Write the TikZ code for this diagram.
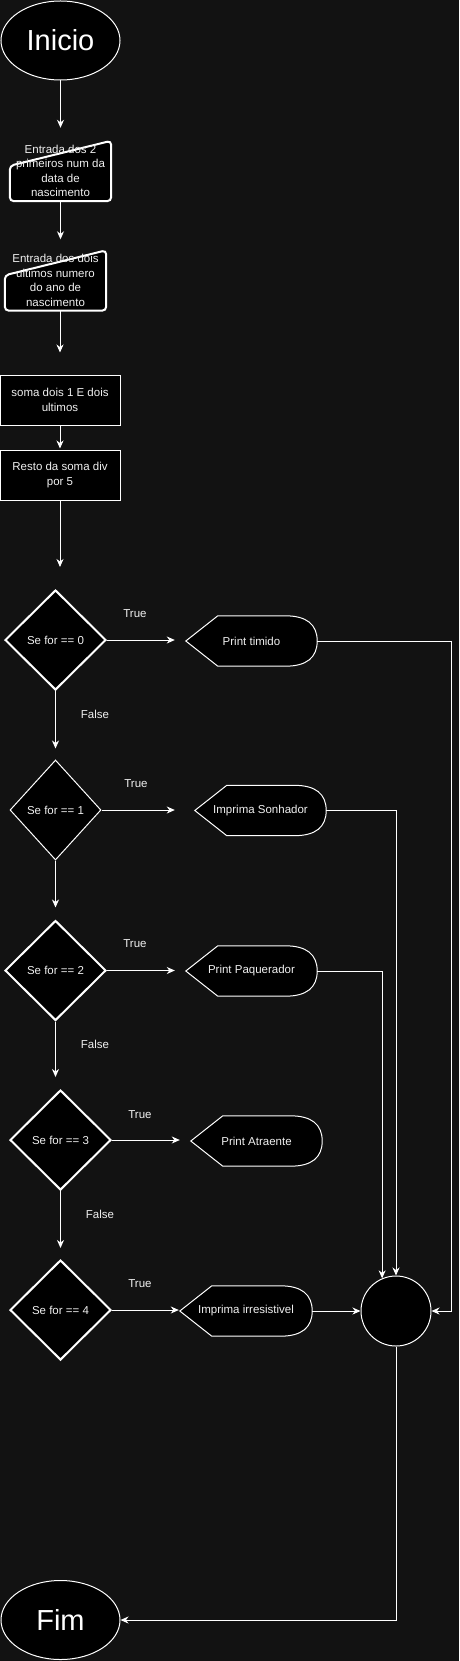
\documentclass[tikz,border=0pt]{standalone}
\usepackage{fontspec}
\setmainfont{Liberation Sans}
\usetikzlibrary{shapes.geometric,arrows.meta}

\pgfdeclarelayer{back}
\pgfdeclarelayer{shapes}
\pgfsetlayers{back,shapes,main}

\definecolor{bgc}{RGB}{18,18,18}
\definecolor{txt}{RGB}{240,240,240}

\tikzset{
  base/.style={text=txt, font=\fontsize{11.5}{14.5}\selectfont, align=center, inner sep=0pt},
  term/.style={base, ellipse, draw=white, fill=black, line width=1pt, minimum width=119pt, minimum height=79pt, font=\fontsize{29}{32}\selectfont, text=white},
  inbox/.style={base, minimum width=101pt, minimum height=60pt},
  procbox/.style={base, rectangle, draw=white, fill=black, line width=1pt, minimum width=120pt, minimum height=50pt},
  decide/.style={base, diamond, draw=white, fill=black, line width=2pt, minimum width=101pt, minimum height=100pt},
  showbox/.style={base, minimum width=131pt, minimum height=50pt},
  arr/.style={draw=white, line width=1pt, -{Stealth[length=8pt,width=7pt,inset=2.5pt]}},
  lbl/.style={base}
}

\begin{document}
\begin{tikzpicture}[x=1pt,y=-1pt]
\begin{pgfonlayer}{back}
  \fill[bgc] (0,0) rectangle (459,1661);
\end{pgfonlayer}
\useasboundingbox (0,0) rectangle (459,1661);

\node[term] (inicio) at (60.5,40.5) {Inicio};
\node[inbox] (in1) at (60.5,171) {Entrada dos 2\\primeiros num da\\data de\\nascimento};
\node[inbox] (in2) at (55.5,280.5) {Entrada dos dois\\ultimos numero\\do ano de\\nascimento};
\node[procbox] (soma) at (60,400) {soma dois 1 E dois\\ultimos};
\node[procbox] (resto) at (60,475) {Resto da soma div\\por 5};

\node[decide] (d0) at (55.5,640) {Se for == 0};
\node[decide, line width=1pt, minimum width=91pt] (d1) at (55.5,810) {Se for == 1};
\node[decide] (d2) at (55.5,970.5) {Se for == 2};
\node[decide] (d3) at (60.5,1140) {Se for == 3};
\node[decide] (d4) at (60.5,1310) {Se for == 4};

\node[showbox] (p0) at (251.5,641) {Print timido};
\node[showbox] (p1) at (260.5,810.5) {Imprima Sonhador};
\node[showbox] (p2) at (251.5,971) {Print Paquerador};
\node[showbox] (p3) at (256.5,1141) {Print Atraente};
\node[showbox, minimum width=132pt] (p4) at (246,1311) {Imprima irresistivel};

\node[circle, draw=white, fill=black, line width=1pt, minimum size=70pt, inner sep=0pt] (junc) at (396,1311) {};
\node[term] (fim) at (60.5,1620) {Fim};

\begin{pgfonlayer}{shapes}
  \foreach \n in {in1,in2}
    \draw[white, fill=black, line width=2pt, rounded corners=4pt] ([yshift=-25pt]\n.north west) -- (\n.north east) -- (\n.south east) -- (\n.south west) -- cycle;
  \foreach \i in {0,...,4}
    \draw[white, fill=black, line width=1pt] (p\i.west) -- ([xshift=32pt]p\i.north west) -- ([xshift=-32pt]p\i.north east)
      .. controls ([xshift=-10.7pt]p\i.north east) and ([yshift=16.7pt]p\i.east) .. (p\i.east)
      .. controls ([yshift=-16.7pt]p\i.east) and ([xshift=-10.7pt]p\i.south east) .. ([xshift=-32pt]p\i.south east)
      -- ([xshift=32pt]p\i.south west) -- cycle;
\end{pgfonlayer}

\draw[arr, shorten >=13pt] (inicio.south) -- (inicio.south |- in1.north);
\draw[arr, shorten >=11pt] (in1.south) -- (in1.south |- in2.north);
\draw[arr, shorten >=22pt] (in2.south -| soma.north) -- (soma.north);
\draw[arr, shorten >=1pt] (soma) -- (resto);
\draw[arr, shorten >=22pt] (resto.south) -- (resto.south |- d0.north);
\draw[arr, shorten >=11pt] (d0) -- (d1);
\draw[arr, shorten >=12pt] (d1) -- (d2);
\draw[arr, shorten >=12pt] (d2.south) -- (d2.south |- d3.north);
\draw[arr, shorten >=11pt] (d3) -- (d4);

\draw[arr, shorten >=11pt] (d0.east) -- (d0.east -| p0.west);
\draw[arr, shorten >=20pt] (d1.east) -- (d1.east -| p1.west);
\draw[arr, shorten >=11pt] (d2.east) -- (d2.east -| p2.west);
\draw[arr, shorten >=11pt] (d3.east) -- (d3.east -| p3.west);
\draw[arr, shorten >=1pt] (d4.east) -- (d4.east -| p4.west);

\draw[arr] (p0.east) -- ++(134,0) |- (junc.east);
\draw[arr] (p1.east) -| (junc.north);
\draw[arr] (p2.east) -| (junc.113.6);
\draw[arr] (p4.east) -- (junc.west);
\draw[arr] (junc.south) |- (fim.east);

\node[lbl] (t0) at (135,614) {True};
\node[lbl] (t1) at (136,784) {True};
\node[lbl] (t2) at (135,944) {True};
\node[lbl] (t3) at (140,1115) {True};
\node[lbl] (t4) at (140,1284) {True};
\node[lbl] (f0) at (95,714) {False};
\node[lbl] (f2) at (95,1044) {False};
\node[lbl] (f3) at (100,1214) {False};
\end{tikzpicture}
\end{document}
